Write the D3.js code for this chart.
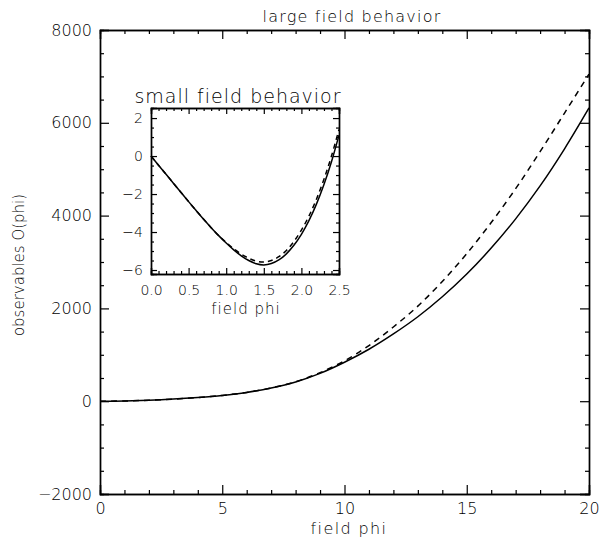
<!DOCTYPE html>
<html>
<head>
<meta charset="utf-8">
<script src="https://cdn.jsdelivr.net/npm/d3@7"></script>
<style>
body { margin: 0; background: #fff; }
svg { display: block; }
text { font-family: "DejaVu Sans", sans-serif; fill: #000; }
</style>
</head>
<body>
<svg id="chart" width="602" height="543"></svg>
<script>
// Main plot data (large field)
const mainPhi = [0,1,2,3,4,5,6,7,8,9,10,11,12,13,14,15,16,17,18,19,20];
const mainSolid = [0,5,20,45,80,125,190,285,415,600,840,1120,1450,1820,2250,2740,3300,3930,4640,5440,6320];
const mainDashed = [0,5,20,45,80,125,190,285,420,615,870,1200,1600,2050,2580,3180,3850,4580,5380,6210,7050];
const mainXTicks = [0,5,10,15,20];
const mainYTicks = [-2000,0,2000,4000,6000,8000];

// Inset data (small field)
const insetPhi = [0,0.1,0.2,0.3,0.4,0.5,0.6,0.7,0.8,0.9,1.0,1.1,1.2,1.3,1.4,1.5,1.6,1.7,1.8,1.9,2.0,2.1,2.2,2.3,2.4,2.5];
const insetSolid = [0,-0.48,-0.96,-1.44,-1.92,-2.40,-2.87,-3.33,-3.77,-4.19,-4.58,-4.94,-5.25,-5.50,-5.67,-5.73,-5.66,-5.47,-5.15,-4.70,-4.12,-3.40,-2.53,-1.50,-0.30,1.10];
const insetDashed = [0,-0.48,-0.96,-1.44,-1.92,-2.40,-2.87,-3.33,-3.77,-4.19,-4.55,-4.88,-5.16,-5.38,-5.53,-5.58,-5.50,-5.30,-4.97,-4.50,-3.90,-3.16,-2.27,-1.22,0.00,1.40];
const insetXTicks = [0,0.5,1.0,1.5,2.0,2.5];
const insetYTicks = [-6,-4,-2,0,2];

const svg = d3.select("#chart");

function frame(g, x, y, opt) {
  const [x0, x1] = x.range();
  const [y0, y1] = y.range(); // y0 bottom, y1 top
  g.append("g").attr("transform", `translate(0,${y0})`)
    .call(d3.axisBottom(x).tickValues(opt.xTicks).tickSize(-opt.major).tickPadding(opt.xPad).tickFormat(opt.xFmt))
    .call(s => s.selectAll("text").attr("font-size", opt.fs));
  g.append("g").attr("transform", `translate(0,${y0})`)
    .call(d3.axisBottom(x).tickValues(opt.xMinor).tickSize(-opt.minor).tickFormat(""));
  g.append("g").attr("transform", `translate(0,${y1})`)
    .call(d3.axisTop(x).tickValues(opt.xTicks).tickSize(-opt.major).tickFormat(""));
  g.append("g").attr("transform", `translate(0,${y1})`)
    .call(d3.axisTop(x).tickValues(opt.xMinor).tickSize(-opt.minor).tickFormat(""));
  g.append("g").attr("transform", `translate(${x0},0)`)
    .call(d3.axisLeft(y).tickValues(opt.yTicks).tickSize(-opt.major).tickPadding(opt.yPad).tickFormat(opt.yFmt))
    .call(s => s.selectAll("text").attr("font-size", opt.fs));
  g.append("g").attr("transform", `translate(${x0},0)`)
    .call(d3.axisLeft(y).tickValues(opt.yMinor).tickSize(-opt.minor).tickFormat(""));
  g.append("g").attr("transform", `translate(${x1},0)`)
    .call(d3.axisRight(y).tickValues(opt.yTicks).tickSize(-opt.major).tickFormat(""));
  g.append("g").attr("transform", `translate(${x1},0)`)
    .call(d3.axisRight(y).tickValues(opt.yMinor).tickSize(-opt.minor).tickFormat(""));
  g.selectAll(".domain").attr("stroke", "#000").attr("stroke-width", 1.4);
  g.selectAll(".tick line").attr("stroke", "#000").attr("stroke-width", 1.2);
  g.selectAll("text").attr("font-family", "DejaVu Sans, sans-serif").attr("font-weight", 300).attr("fill", "#000");
}

// ---------- main plot ----------
const x = d3.scaleLinear().domain([0, 20]).range([100, 589]);
const y = d3.scaleLinear().domain([-2000, 8000]).range([494, 30]);
const gMain = svg.append("g");
frame(gMain, x, y, {
  xTicks: mainXTicks, xMinor: d3.range(0, 21, 1).filter(v => v % 5 !== 0),
  yTicks: mainYTicks, yMinor: d3.range(-2000, 8001, 500).filter(v => v % 2000 !== 0),
  major: 9, minor: 4, xPad: 9, yPad: 8, fs: 16,
  xFmt: d3.format("d"), yFmt: d3.format("d")
});

const lineMain = ys => d3.line().x((d, i) => x(mainPhi[i])).y(d => y(d)).curve(d3.curveCatmullRom)(ys);
gMain.append("path").attr("d", lineMain(mainSolid)).attr("fill", "none").attr("stroke", "#000").attr("stroke-width", 1.5);
gMain.append("path").attr("d", lineMain(mainDashed)).attr("fill", "none").attr("stroke", "#000").attr("stroke-width", 1.5).attr("stroke-dasharray", "6,5");

svg.append("text").attr("x", 352).attr("y", 22).attr("text-anchor", "middle")
  .attr("font-size", 16).attr("letter-spacing", 1.2).attr("font-weight", 300).text("large field behavior");
svg.append("text").attr("x", 349).attr("y", 534).attr("text-anchor", "middle")
  .attr("font-size", 16).attr("letter-spacing", 1.4).attr("font-weight", 300).text("field phi");
svg.append("text").attr("transform", "translate(24,265) rotate(-90)").attr("text-anchor", "middle")
  .attr("font-size", 15).attr("font-weight", 300).text("observables O(phi)");

// ---------- inset ----------
const xi = d3.scaleLinear().domain([0, 2.5]).range([151, 339]);
const yi = d3.scaleLinear().domain([-6.21, 2.53]).range([274, 108]);
const gIn = svg.append("g");
gIn.append("rect").attr("x", 151).attr("y", 108).attr("width", 188).attr("height", 166).attr("fill", "#fff");
frame(gIn, xi, yi, {
  xTicks: insetXTicks, xMinor: d3.range(0.1, 2.5, 0.1).filter(v => Math.abs(v * 2 - Math.round(v * 2)) > 1e-6),
  yTicks: insetYTicks, yMinor: d3.range(-6, 2.01, 0.5).filter(v => Math.abs(v / 2 - Math.round(v / 2)) > 1e-6),
  major: 6, minor: 3, xPad: 11, yPad: 8, fs: 14,
  xFmt: d3.format(".1f"), yFmt: d => d3.format("d")(d).replace("-", "\u2212")
});
const lineIn = ys => d3.line().x((d, i) => xi(insetPhi[i])).y(d => yi(d)).curve(d3.curveCatmullRom)(ys);
gIn.append("path").attr("d", lineIn(insetSolid)).attr("fill", "none").attr("stroke", "#000").attr("stroke-width", 1.5);
gIn.append("path").attr("d", lineIn(insetDashed)).attr("fill", "none").attr("stroke", "#000").attr("stroke-width", 1.5).attr("stroke-dasharray", "5,4");

svg.append("text").attr("x", 238).attr("y", 103).attr("text-anchor", "middle")
  .attr("font-size", 19).attr("letter-spacing", 1).attr("font-weight", 300).text("small field behavior");
svg.append("text").attr("x", 246).attr("y", 314).attr("text-anchor", "middle")
  .attr("font-size", 15).attr("letter-spacing", 1).attr("font-weight", 300).text("field phi");
</script>
</body>
</html>
